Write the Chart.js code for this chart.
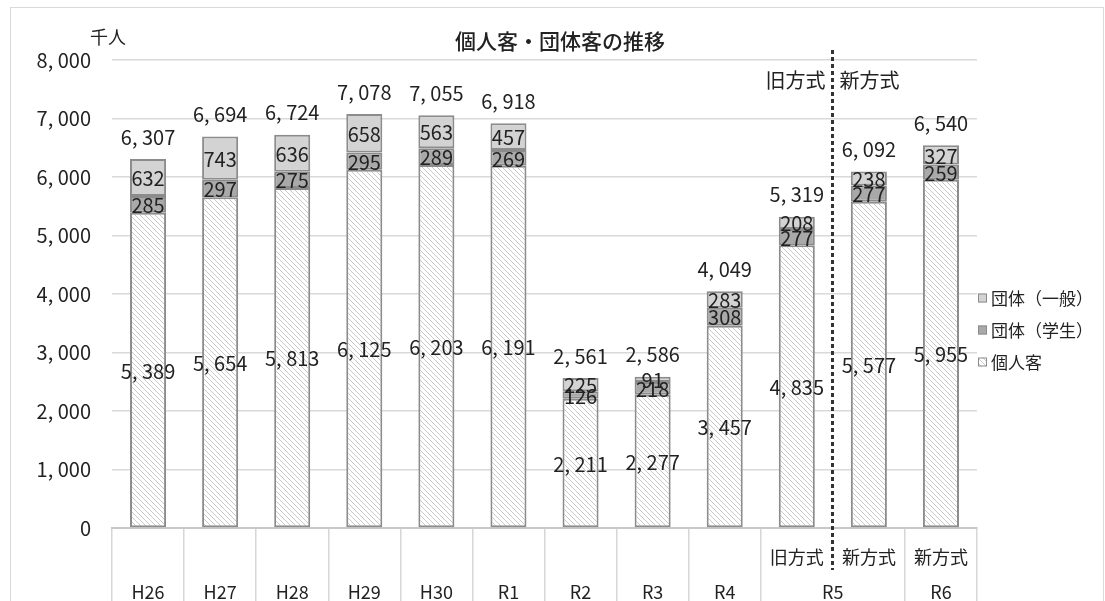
<!DOCTYPE html>
<html><head><meta charset="utf-8">
<script src="https://cdn.jsdelivr.net/npm/chart.js@4.4.1/dist/chart.umd.min.js"></script>
<style>html,body{margin:0;padding:0;background:#fff;overflow:hidden}</style>
</head><body>
<canvas id="c" width="1105" height="601"></canvas>
<script>
const years = ['H26','H27','H28','H29','H30','R1','R2','R3','R4','R5','R5','R6'];
const methods = ['','','','','','','','','','旧方式','新方式','新方式'];
const kojin = [5389,5654,5813,6125,6203,6191,2211,2277,3457,4835,5577,5955];
const gakusei = [285,297,275,295,289,269,126,218,308,277,277,259];
const ippan = [632,743,636,658,563,457,225,91,283,208,238,327];
const totals = [6307,6694,6724,7078,7055,6918,2561,2586,4049,5319,6092,6540];
const yTicks = [0,1000,2000,3000,4000,5000,6000,7000,8000];
const seriesNames = ['個人客','団体（学生）','団体（一般）'];
const titleText = '個人客・団体客の推移';
const unitText = '千人';

const F = "'Noto Sans CJK JP', 'Noto Sans', sans-serif";
const TXT = '#222';
const fmt = v => Number(v).toLocaleString('en-US').replace(/,/g, ', ');

function hatch(){
  const s = 5, c = document.createElement('canvas'); c.width = s; c.height = s;
  const x = c.getContext('2d');
  x.fillStyle = '#fff'; x.fillRect(0,0,s,s);
  x.strokeStyle = '#c9c9c9'; x.lineWidth = 1;
  x.beginPath();
  x.moveTo(0,0); x.lineTo(s,s);
  x.moveTo(-1,s-1); x.lineTo(1,s+1);
  x.moveTo(s-1,-1); x.lineTo(s+1,1);
  x.stroke();
  return x.createPattern(c,'repeat');
}

// group labels: a year shared by consecutive categories is drawn once, centred
const xLabels = years.map((y,i) => {
  const grouped = (years[i-1] === y) || (years[i+1] === y);
  return [methods[i], grouped ? '' : y];
});

const TICK_LEN = 73, TICK_PAD = -61.5, LINE_H = 35;

const deco = {
  id: 'deco',
  beforeDraw(chart){
    const ctx = chart.ctx; ctx.save();
    ctx.fillStyle = '#fff'; ctx.fillRect(0,0,chart.width,chart.height);
    ctx.strokeStyle = '#d9d9d9'; ctx.lineWidth = 1;
    ctx.strokeRect(10.5, 7.5, 1093, 620);
    ctx.restore();
  },
  afterDatasetsDraw(chart){
    const ctx = chart.ctx, ys = chart.scales.y;
    ctx.save();
    ctx.fillStyle = TXT; ctx.textAlign = 'center'; ctx.textBaseline = 'middle';
    ctx.font = '20px ' + F;
    chart.data.datasets.forEach((ds, di) => {
      const meta = chart.getDatasetMeta(di);
      meta.data.forEach((bar, i) => {
        const yc = (bar.y + bar.base) / 2;
        ctx.fillText(fmt(ds.data[i]), bar.x, yc + 1);
      });
    });
    const meta0 = chart.getDatasetMeta(0);
    totals.forEach((t, i) => {
      ctx.fillText(fmt(t), meta0.data[i].x, ys.getPixelForValue(t) - 22);
    });
    ctx.restore();
  },
  afterDraw(chart){
    const ctx = chart.ctx, xs = chart.scales.x;
    ctx.save();
    // title & unit
    ctx.fillStyle = TXT; ctx.textBaseline = 'middle';
    ctx.font = '500 21px ' + F; ctx.textAlign = 'center';
    ctx.fillText(titleText, 560, 41);
    ctx.font = '18px ' + F; ctx.textAlign = 'left';
    ctx.fillText(unitText, 90, 37);

    // grouped year labels (e.g. R5)
    ctx.font = '18px ' + F; ctx.textAlign = 'center';
    const yRow2 = xs.top + TICK_LEN + TICK_PAD + LINE_H * 1.5;
    for (let i = 0; i < years.length; i++) {
      if (years[i+1] === years[i] && years[i-1] !== years[i]) {
        let j = i; while (years[j+1] === years[i]) j++;
        const cx = (xs.getPixelForValue(i) + xs.getPixelForValue(j)) / 2;
        ctx.fillText(years[i], cx, yRow2);
      }
    }

    // dotted divider between 旧方式 and 新方式
    const k = methods.findIndex((m, i) => m === '新方式' && methods[i-1] === '旧方式');
    if (k > 0) {
      const dx = Math.round((xs.getPixelForValue(k-1) + xs.getPixelForValue(k)) / 2) - 0.5;
      ctx.strokeStyle = '#333'; ctx.lineWidth = 3; ctx.setLineDash([4,3]);
      ctx.beginPath(); ctx.moveTo(dx, 50); ctx.lineTo(dx, 570); ctx.stroke();
      ctx.setLineDash([]);
      ctx.font = '20px ' + F; ctx.fillStyle = TXT; ctx.textBaseline = 'middle';
      ctx.textAlign = 'right'; ctx.fillText('旧方式', dx - 7, 80);
      ctx.textAlign = 'left'; ctx.fillText('新方式', dx + 7, 80);
    }

    // legend (reverse order)
    const lx = 978; let ly = 298;
    ctx.font = '17px ' + F; ctx.textAlign = 'left'; ctx.textBaseline = 'middle';
    for (let d = chart.data.datasets.length - 1; d >= 0; d--) {
      const ds = chart.data.datasets[d];
      ctx.fillStyle = ds.backgroundColor;
      ctx.fillRect(lx, ly - 4.5, 9, 9);
      ctx.strokeStyle = '#8c8c8c'; ctx.lineWidth = 1;
      ctx.strokeRect(lx + 0.5, ly - 4, 8, 8);
      ctx.fillStyle = TXT;
      ctx.fillText(ds.label, lx + 13, ly + 1);
      ly += 32;
    }
    ctx.restore();
  }
};

const barCommon = { borderColor: '#8c8c8c', borderWidth: 2, borderSkipped: false, barPercentage: 0.5, categoryPercentage: 1.0 };

new Chart(document.getElementById('c'), {
  type: 'bar',
  data: {
    labels: xLabels,
    datasets: [
      Object.assign({ label: seriesNames[0], data: kojin, backgroundColor: hatch() }, barCommon),
      Object.assign({ label: seriesNames[1], data: gakusei, backgroundColor: '#a9a9a9' }, barCommon),
      Object.assign({ label: seriesNames[2], data: ippan, backgroundColor: '#d3d3d3' }, barCommon)
    ]
  },
  options: {
    responsive: false, animation: false, devicePixelRatio: 1,
    layout: { padding: { left: 10, right: 128, top: 60, bottom: 0 } },
    plugins: { legend: { display: false }, title: { display: false }, tooltip: { enabled: false } },
    scales: {
      x: {
        stacked: true, offset: true,
        grid: {
          drawOnChartArea: false, drawTicks: true, tickLength: TICK_LEN, offset: true, lineWidth: 1.5,
          color: ctx => (ctx.index > 0 && years[ctx.index] === years[ctx.index - 1]) ? 'rgba(0,0,0,0)' : '#d6d6d6'
        },
        border: { display: true, color: '#c8c8c8', width: 2 },
        ticks: { autoSkip: false, maxRotation: 0, minRotation: 0, padding: TICK_PAD, color: TXT,
                 font: { family: F, size: 18, lineHeight: LINE_H + 'px' } },
        afterFit(s) { s.height = TICK_LEN; }
      },
      y: {
        stacked: true, min: 0, max: 8000,
        afterBuildTicks(s) { s.ticks = yTicks.map(v => ({ value: v })); },
        ticks: { padding: 21, color: TXT, callback: v => fmt(v), font: { family: F, size: 20 } },
        grid: { color: '#d9d9d9', lineWidth: 1.5, drawTicks: false },
        border: { display: false },
        afterFit(s) { s.width = 102; }
      }
    }
  },
  plugins: [deco]
});
</script>
</body></html>
